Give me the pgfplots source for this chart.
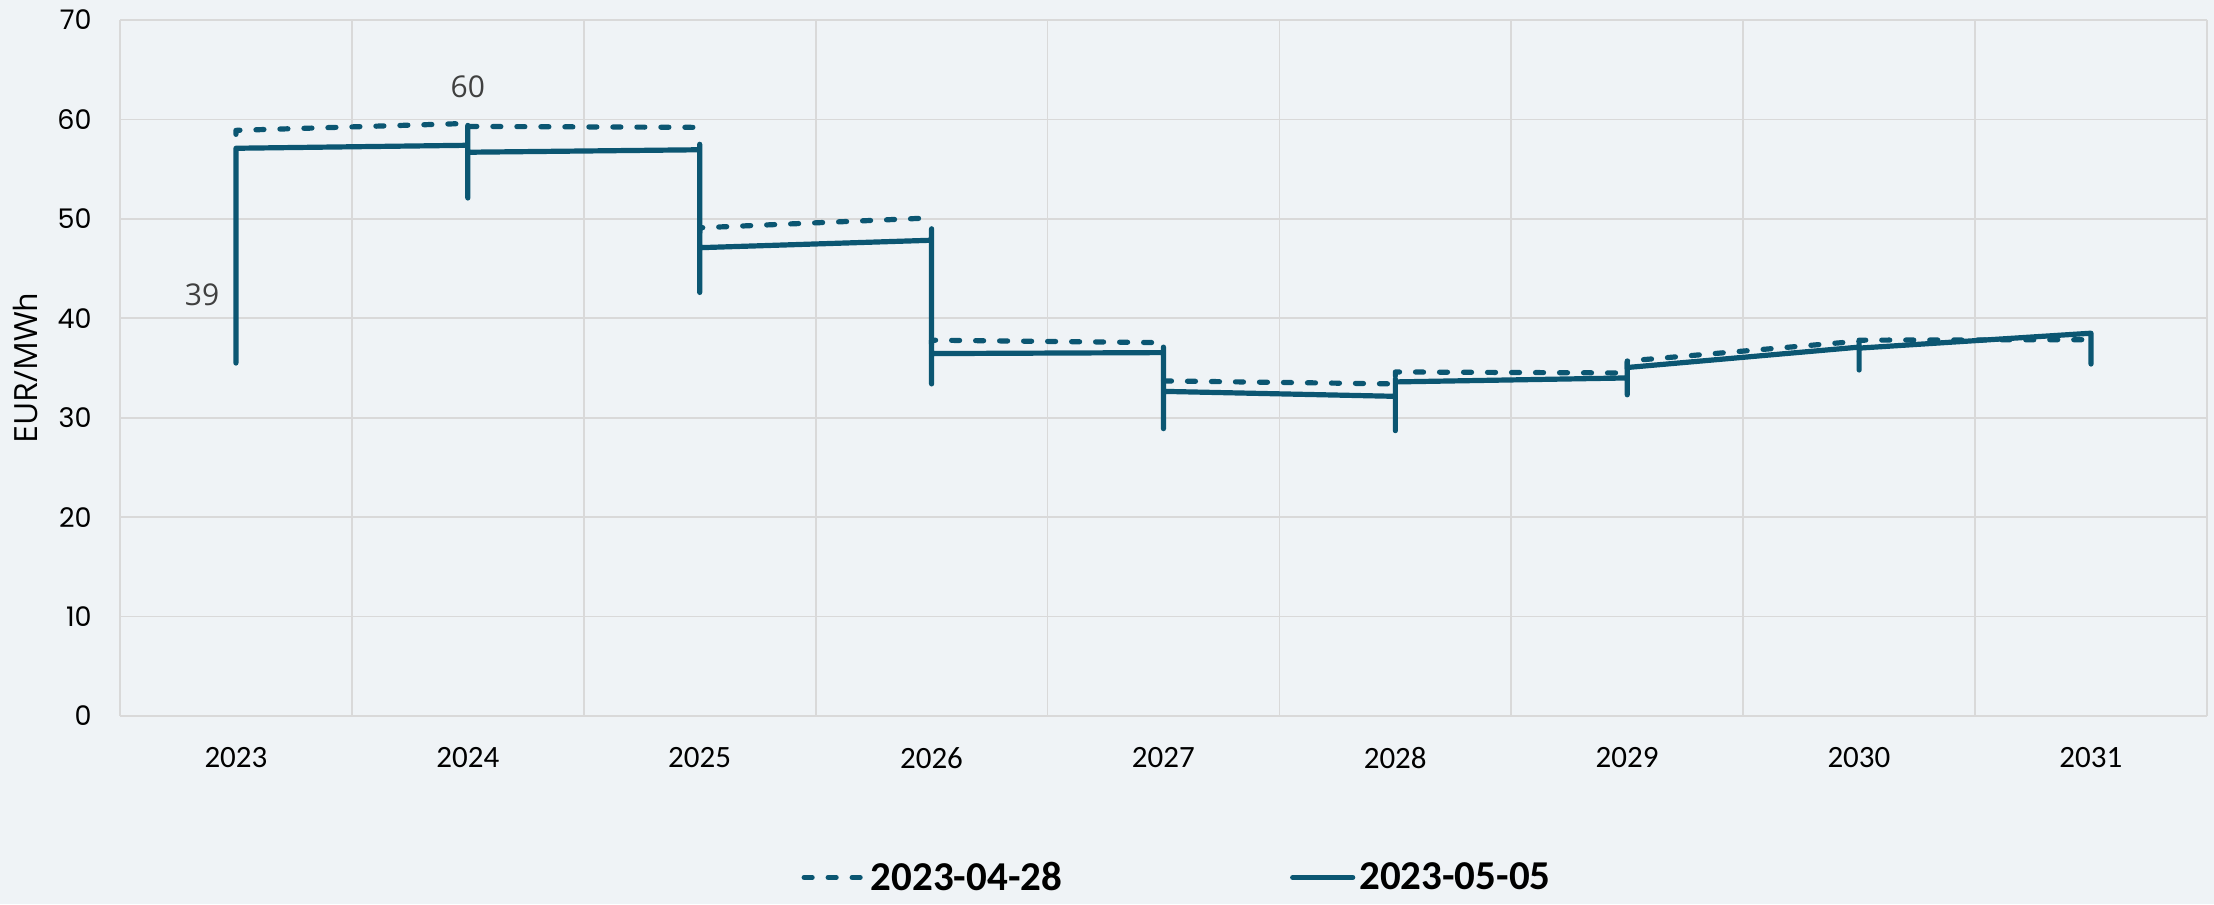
\documentclass[border=0pt]{standalone}
\usepackage{pgfplots}
\pgfplotsset{compat=1.18}
\usepackage{fontspec}
\setmainfont{Carlito}
\newfontfamily\popp{Poppins}
\newfontfamily\opens{Open Sans}
\definecolor{bgc}{HTML}{EFF3F6}
\definecolor{gridc}{HTML}{D9D9D9}
\definecolor{linec}{HTML}{0B5672}
\definecolor{lblc}{HTML}{404040}

\begin{document}
\begin{tikzpicture}
\path[use as bounding box, fill=bgc] (0,0) rectangle (1107pt,452pt);
\clip (0,0) rectangle (1107pt,452pt);
\begin{axis}[
  at={(60pt,94pt)}, anchor=south west,
  scale only axis, width=1043.5pt, height=348pt,
  xmin=2022.5, xmax=2031.5, ymin=0, ymax=70,
  xtick={2023,...,2031},
  minor xtick={2022.5,2023.5,...,2031.5},
  ytick={0,10,...,70},
  xminorgrids, ymajorgrids,
  grid style={draw=gridc, line width=0.9pt},
  minor grid style={draw=gridc, line width=0.9pt},
  axis line style={draw=none},
  major tick length=0pt, minor tick length=0pt,
  /pgf/number format/1000 sep={},
  /pgf/number format/assume math mode=true,
  xticklabel style={font=\fontsize{15.5}{18}\selectfont, anchor=center, yshift=-21pt},
  yticklabel style={font=\popp\fontsize{13.5}{16}\selectfont, anchor=east, inner sep=0pt, xshift=-14pt},
  ylabel={EUR/MWh},
  ylabel style={font=\opens\fontsize{16}{19}\selectfont, at={(axis description cs:-0.0455,0.5)}, anchor=center},
  legend columns=2,
  legend style={draw=none, fill=none, at={(axis description cs:0.507,-0.232)}, anchor=center,
    font=\bfseries\fontsize{20.5}{24}\selectfont,
    /tikz/every even column/.append style={column sep=112pt}},
  legend image code/.code={\draw[#1] (0pt,0pt) -- (30pt,0pt);},
  unbounded coords=jump,
]
% 2023-04-28 (dashed)
\addplot[linec, line width=2.6pt, line cap=round, line join=round, dash pattern=on 4pt off 8pt] coordinates {
  (2023,58.5) (2023,58.9) (2024,59.6) (2024,59.3) (2025,59.2) (2025,58.6)
  (2025,nan)
  (2025,48.6) (2025,49.1) (2026,50.1)
  (2026,nan)
  (2026,37.4) (2026,37.8) (2027,37.55)
  (2027,nan)
  (2027,33.7) (2028,33.4) (2028,34.6) (2029,34.5) (2029,35.7)
  (2030,37.7) (2030,37.8) (2031,37.85)
};
\addlegendentry{2023-04-28}
% 2023-05-05 (solid)
\addplot[linec, line width=2.6pt, line cap=round, line join=round] coordinates {
  (2023,35.5) (2023,57.1)
  (2024,57.4) (2024,52.1) (2024,59.4) (2024,56.7)
  (2025,56.95) (2025,57.5) (2025,42.6) (2025,47.1)
  (2026,47.85) (2026,49.0) (2026,33.4) (2026,36.45)
  (2027,36.55) (2027,37.1) (2027,28.9) (2027,32.65)
  (2028,32.15) (2028,33.9) (2028,28.7) (2028,33.6)
  (2029,34.0) (2029,35.6) (2029,32.3) (2029,35.05)
  (2030,37.1) (2030,37.5) (2030,34.8) (2030,37.0)
  (2031,38.5) (2031,35.4)
};
\addlegendentry{2023-05-05}
\node[font=\opens\fontsize{15}{18}\selectfont, text=lblc] at (axis cs:2022.854,42.4) {39};
\node[font=\opens\fontsize{15}{18}\selectfont, text=lblc] at (axis cs:2024.0,63.3) {60};
\end{axis}
\end{tikzpicture}
\end{document}
